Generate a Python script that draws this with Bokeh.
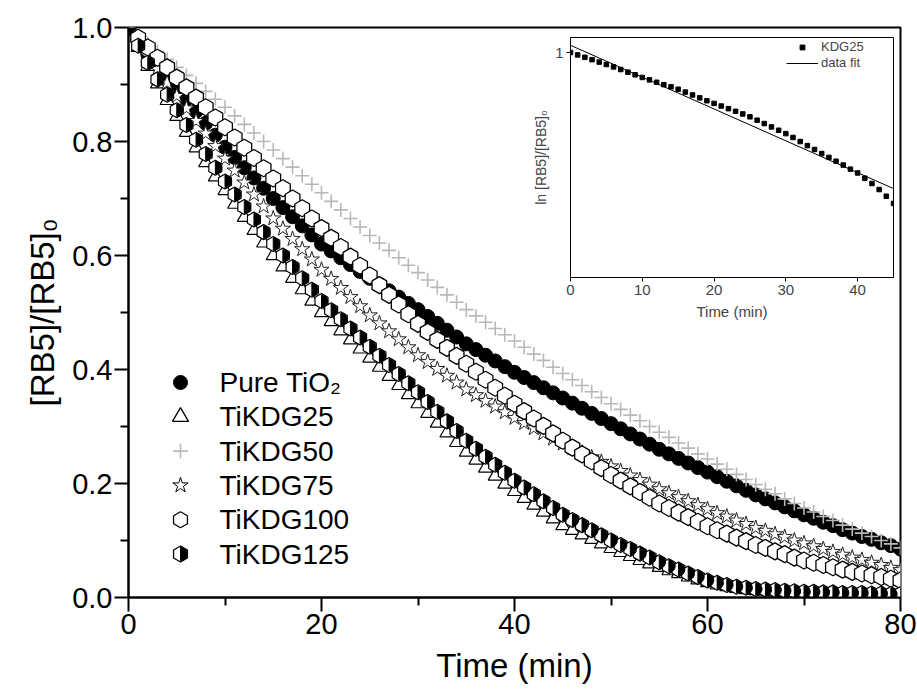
from math import pi
from bokeh.plotting import figure
from bokeh.models import Range1d, FixedTicker, Legend, LegendItem, ColumnDataSource, NumeralTickFormatter
from bokeh.layouts import column
from bokeh.core.properties import value
from bokeh.embed import file_html
from bokeh.resources import INLINE

FONT = "Liberation Sans"

# ---------------- data ----------------
time_min = list(range(0, 81))

pure_tio2 = [1.000, 0.975, 0.953, 0.934, 0.914, 0.895, 0.874, 0.853, 0.832, 0.811,
             0.790, 0.772, 0.754, 0.736, 0.718, 0.700, 0.684, 0.668, 0.652, 0.636,
             0.620, 0.608, 0.596, 0.584, 0.572, 0.560, 0.549, 0.538, 0.527, 0.516,
             0.505, 0.493, 0.481, 0.469, 0.457, 0.445, 0.435, 0.425, 0.415, 0.405,
             0.395, 0.386, 0.377, 0.368, 0.359, 0.350, 0.341, 0.332, 0.323, 0.314,
             0.305, 0.296, 0.287, 0.278, 0.269, 0.260, 0.252, 0.244, 0.236, 0.228,
             0.220, 0.212, 0.204, 0.196, 0.188, 0.180, 0.173, 0.166, 0.159, 0.152,
             0.145, 0.139, 0.132, 0.126, 0.119, 0.113, 0.107, 0.102, 0.096, 0.091,
             0.085]

tikdg25 = [1.000, 0.965, 0.932, 0.901, 0.872, 0.844, 0.816, 0.789, 0.763, 0.738,
           0.714, 0.690, 0.667, 0.644, 0.622, 0.600, 0.580, 0.560, 0.540, 0.520,
           0.500, 0.484, 0.468, 0.452, 0.436, 0.420, 0.404, 0.388, 0.372, 0.356,
           0.340, 0.323, 0.306, 0.289, 0.272, 0.255, 0.241, 0.227, 0.213, 0.199,
           0.186, 0.174, 0.162, 0.150, 0.138, 0.126, 0.118, 0.110, 0.102, 0.094,
           0.086, 0.079, 0.072, 0.065, 0.059, 0.053, 0.047, 0.042, 0.036, 0.031,
           0.026, 0.022, 0.019, 0.016, 0.014, 0.012, 0.011, 0.010, 0.009, 0.009,
           0.008, 0.008, 0.007, 0.007, 0.006, 0.006, 0.006, 0.005, 0.005, 0.005,
           0.005]

tikdg50 = [1.000, 0.986, 0.972, 0.958, 0.944, 0.930, 0.916, 0.902, 0.888, 0.874,
           0.860, 0.845, 0.830, 0.815, 0.800, 0.785, 0.770, 0.755, 0.740, 0.725,
           0.710, 0.695, 0.680, 0.665, 0.650, 0.635, 0.622, 0.609, 0.596, 0.583,
           0.570, 0.557, 0.544, 0.531, 0.518, 0.505, 0.494, 0.483, 0.472, 0.461,
           0.450, 0.439, 0.427, 0.416, 0.404, 0.393, 0.382, 0.372, 0.361, 0.351,
           0.340, 0.330, 0.320, 0.310, 0.300, 0.290, 0.281, 0.271, 0.262, 0.252,
           0.243, 0.234, 0.225, 0.216, 0.207, 0.198, 0.190, 0.182, 0.173, 0.165,
           0.157, 0.150, 0.142, 0.135, 0.127, 0.120, 0.113, 0.107, 0.100, 0.094,
           0.087]

tikdg75 = [1.000, 0.975, 0.951, 0.927, 0.903, 0.880, 0.858, 0.836, 0.814, 0.792,
           0.770, 0.749, 0.728, 0.707, 0.686, 0.665, 0.647, 0.629, 0.611, 0.593,
           0.575, 0.559, 0.543, 0.527, 0.511, 0.495, 0.481, 0.467, 0.453, 0.439,
           0.425, 0.413, 0.401, 0.389, 0.377, 0.365, 0.355, 0.345, 0.335, 0.325,
           0.315, 0.306, 0.297, 0.288, 0.279, 0.270, 0.262, 0.254, 0.246, 0.238,
           0.230, 0.222, 0.214, 0.206, 0.198, 0.190, 0.183, 0.176, 0.169, 0.162,
           0.155, 0.148, 0.142, 0.135, 0.129, 0.122, 0.117, 0.111, 0.106, 0.100,
           0.095, 0.090, 0.085, 0.080, 0.075, 0.070, 0.066, 0.061, 0.057, 0.052,
           0.048]

tikdg100 = [1.000, 0.982, 0.965, 0.947, 0.930, 0.912, 0.895, 0.877, 0.860, 0.842,
            0.825, 0.807, 0.789, 0.771, 0.753, 0.735, 0.718, 0.700, 0.683, 0.665,
            0.648, 0.631, 0.615, 0.598, 0.582, 0.565, 0.548, 0.531, 0.514, 0.497,
            0.480, 0.466, 0.452, 0.438, 0.424, 0.410, 0.396, 0.382, 0.368, 0.354,
            0.340, 0.327, 0.314, 0.301, 0.288, 0.275, 0.263, 0.251, 0.239, 0.227,
            0.215, 0.205, 0.195, 0.185, 0.175, 0.165, 0.157, 0.149, 0.141, 0.133,
            0.125, 0.118, 0.112, 0.105, 0.099, 0.092, 0.087, 0.081, 0.076, 0.070,
            0.065, 0.061, 0.057, 0.053, 0.049, 0.045, 0.042, 0.039, 0.036, 0.033,
            0.030]

tikdg125 = [1.000, 0.968, 0.938, 0.909, 0.882, 0.855, 0.829, 0.803, 0.778, 0.754,
            0.730, 0.707, 0.685, 0.663, 0.641, 0.620, 0.600, 0.580, 0.560, 0.540,
            0.520, 0.504, 0.488, 0.472, 0.456, 0.440, 0.424, 0.408, 0.392, 0.376,
            0.360, 0.343, 0.326, 0.309, 0.292, 0.275, 0.261, 0.247, 0.233, 0.219,
            0.205, 0.193, 0.181, 0.169, 0.157, 0.145, 0.136, 0.127, 0.118, 0.109,
            0.100, 0.092, 0.085, 0.077, 0.070, 0.062, 0.055, 0.049, 0.042, 0.036,
            0.030, 0.026, 0.022, 0.019, 0.017, 0.015, 0.014, 0.013, 0.012, 0.011,
            0.010, 0.010, 0.009, 0.009, 0.008, 0.008, 0.008, 0.007, 0.007, 0.006,
            0.006]

series_labels = ["Pure TiO\u2082", "TiKDG25", "TiKDG50", "TiKDG75", "TiKDG100", "TiKDG125"]
x_ticks = [0, 20, 40, 60, 80]
x_minor = [10, 30, 50, 70]
y_ticks = [0.0, 0.2, 0.4, 0.6, 0.8, 1.0]
y_minor = [0.1, 0.3, 0.5, 0.7, 0.9]

# inset: ln[RB5]/[RB5]0 of KDG25 and its linear fit
inset_time = list(range(0, 46))
inset_kdg25 = [1.000, 0.990, 0.980, 0.970, 0.960, 0.950, 0.940, 0.929, 0.918, 0.907,
               0.896, 0.886, 0.876, 0.866, 0.857, 0.847, 0.835, 0.823, 0.811, 0.799,
               0.788, 0.777, 0.766, 0.755, 0.744, 0.732, 0.718, 0.704, 0.690, 0.676,
               0.662, 0.646, 0.629, 0.612, 0.596, 0.579, 0.563, 0.547, 0.531, 0.514,
               0.498, 0.476, 0.454, 0.429, 0.401, 0.371]
inset_fit_time = [0, 45]
inset_fit = [1.030, 0.433]
inset_x_ticks = [0, 10, 20, 30, 40]
inset_y_ticks = [1]
inset_labels = ["KDG25", "data fit"]

# ---------------- main figure ----------------
p = figure(width=917, height=695, x_range=Range1d(0, 80), y_range=Range1d(0, 1.0),
           output_backend="svg", toolbar_location=None,
           min_border_left=128, min_border_right=17, min_border_top=27, min_border_bottom=98)
p.grid.visible = False
p.outline_line_color = "black"
p.outline_line_width = 2
p.background_fill_color = "white"
p.border_fill_color = "white"

p.xaxis.ticker = FixedTicker(ticks=x_ticks, minor_ticks=x_minor)
p.yaxis.ticker = FixedTicker(ticks=y_ticks, minor_ticks=y_minor)
p.yaxis.formatter = NumeralTickFormatter(format="0.0")
p.xaxis.axis_label = "Time (min)"
p.yaxis.axis_label = "[RB5]/[RB5]\u2080"
for ax in (p.xaxis[0], p.yaxis[0]):
    ax.axis_line_width = 2
    ax.axis_line_color = "black"
    ax.major_tick_line_width = 2
    ax.minor_tick_line_width = 2
    ax.major_tick_line_color = "black"
    ax.minor_tick_line_color = "black"
    ax.major_tick_in = 0
    ax.major_tick_out = 14
    ax.minor_tick_in = 0
    ax.minor_tick_out = 8
    ax.major_label_text_font = FONT
    ax.major_label_text_font_size = "29px"
    ax.major_label_text_color = "black"
    ax.major_label_standoff = 2
    ax.axis_label_text_font = FONT
    ax.axis_label_text_font_size = "33px"
    ax.axis_label_text_font_style = "normal"
    ax.axis_label_text_color = "black"
p.xaxis.axis_label_standoff = 10
p.yaxis.axis_label_standoff = 8

src = ColumnDataSource(dict(t=time_min, tio2=pure_tio2, k25=tikdg25, k50=tikdg50,
                            k75=tikdg75, k100=tikdg100, k125=tikdg125))

p.scatter("t", "tio2", source=src, marker="circle", size=14, fill_color="black", line_color="black")
p.scatter("t", "k50", source=src, marker="cross", size=14, line_color="#b8b8b8", line_width=1.6)
p.scatter("t", "k25", source=src, marker="triangle", size=14, fill_color="white", line_color="black", line_width=1.2)
p.scatter("t", "k75", source=src, marker="star", size=16, fill_color="white", line_color="#222222", line_width=1.0)
p.scatter("t", "k100", source=src, marker="hex", angle=pi / 6, size=17, fill_color="white", line_color="black", line_width=1.3)
p.scatter("t", "k125", source=src, marker="hex", angle=pi / 6, size=15, fill_color="white", line_color="black", line_width=1.2)
p.wedge("t", "k125", source=src, radius=6.3, radius_units="screen", start_angle=-pi / 2, end_angle=pi / 2,
        fill_color="black", line_color="black")

# manual legend (screen-pixel layout converted to data units)
def px_x(px):
    return (px - 128) * 80.0 / 772.0

def px_y(py):
    return (597 - py) / 570.0

leg_mx = px_x(180)
leg_tx = px_x(219)
leg_rows = [px_y(382 + 34.3 * i) for i in range(6)]
p.scatter([leg_mx], [leg_rows[0]], marker="circle", size=14, fill_color="black", line_color="black")
p.scatter([leg_mx], [leg_rows[1]], marker="triangle", size=16, fill_color="white", line_color="black", line_width=1.3)
p.scatter([leg_mx], [leg_rows[2]], marker="cross", size=15, line_color="#b8b8b8", line_width=1.6)
p.scatter([leg_mx], [leg_rows[3]], marker="star", size=16, fill_color="white", line_color="black", line_width=1.0)
p.scatter([leg_mx], [leg_rows[4]], marker="hex", angle=pi / 6, size=16, fill_color="white", line_color="black", line_width=1.3)
p.scatter([leg_mx], [leg_rows[5]], marker="hex", angle=pi / 6, size=16, fill_color="white", line_color="black", line_width=1.3)
p.wedge([leg_mx], [leg_rows[5]], radius=6.8, radius_units="screen", start_angle=-pi / 2, end_angle=pi / 2,
        fill_color="black", line_color="black")
p.text([leg_tx] * 6, leg_rows, text=series_labels, text_font=value(FONT), text_font_size="28px",
       text_baseline="middle", text_align="left", text_color="black")

# ---------------- inset ----------------
# the column aligns plot frames, so the inset shares the main plot's side borders (128 / 17)
q = figure(width=468, height=315, x_range=Range1d(0, 45), y_range=Range1d(0.0625, 1.0625),
           output_backend="svg", toolbar_location=None,
           min_border_left=128, min_border_right=17, min_border_top=10, min_border_bottom=65)
q.margin = (-668, 0, 0, 442)
q.grid.visible = False
q.outline_line_color = "black"
q.outline_line_width = 1
q.background_fill_alpha = 0
q.border_fill_alpha = 0
q.xaxis.ticker = FixedTicker(ticks=inset_x_ticks, minor_ticks=[])
q.yaxis.ticker = FixedTicker(ticks=inset_y_ticks, minor_ticks=[])
q.xaxis.axis_label = "Time (min)"
q.yaxis.axis_label = "ln [RB5]/[RB5]\u2080"
for ax in (q.xaxis[0], q.yaxis[0]):
    ax.axis_line_width = 1
    ax.major_tick_in = 0
    ax.major_tick_out = 4
    ax.major_tick_line_width = 1
    ax.major_label_text_font = FONT
    ax.major_label_text_font_size = "15px"
    ax.major_label_standoff = 3
    ax.axis_label_text_font = FONT
    ax.axis_label_text_font_size = "15px"
    ax.axis_label_text_font_style = "normal"
    ax.axis_label_standoff = 5
q.yaxis.axis_label_text_font_size = "14px"
q.yaxis.axis_label_standoff = 3

isrc = ColumnDataSource(dict(t=inset_time, y=inset_kdg25))
fsrc = ColumnDataSource(dict(t=inset_fit_time, y=inset_fit))
r_dots = q.scatter("t", "y", source=isrc, marker="square", size=4.5, fill_color="black", line_color="black")
r_fit = q.line("t", "y", source=fsrc, line_color="black", line_width=1)

ileg = Legend(items=[LegendItem(label=inset_labels[0], renderers=[r_dots]),
                     LegendItem(label=inset_labels[1], renderers=[r_fit])],
              location=(214, 205))
ileg.border_line_alpha = 0
ileg.background_fill_alpha = 0
ileg.label_text_font = FONT
ileg.label_text_font_size = "13px"
ileg.label_height = 12
ileg.glyph_height = 12
ileg.glyph_width = 32
ileg.spacing = 1
ileg.padding = 2
ileg.margin = 0
ileg.label_standoff = 3
q.add_layout(ileg)

layout = column(p, q)
open("out.html", "w").write(file_html(layout, INLINE))
